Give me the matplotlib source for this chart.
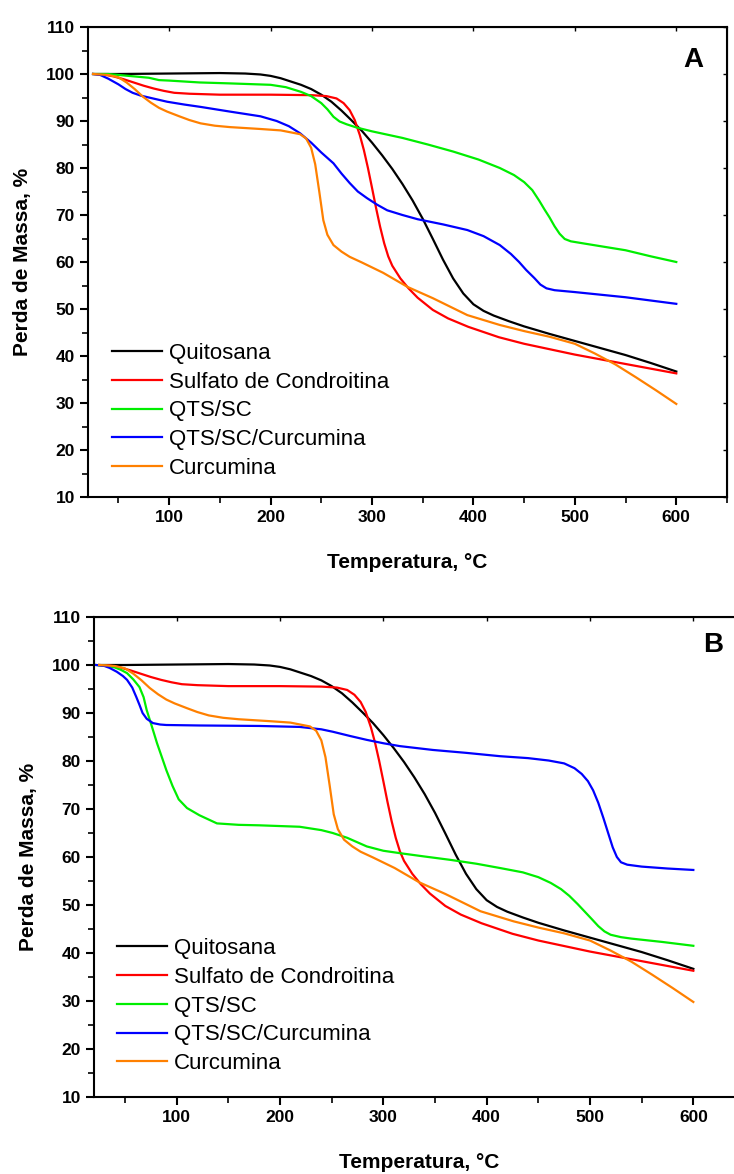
import numpy as np
import matplotlib
matplotlib.use('Agg')
import matplotlib.pyplot as plt
from matplotlib.ticker import MultipleLocator, NullFormatter

plt.rcParams['font.family'] = ['Liberation Sans', 'DejaVu Sans']

# curvas TGA - amostras puras (iguais nos dois graficos)
t_qui = [25, 50, 100, 150, 175, 190, 200, 210, 220, 230, 240, 250, 260, 270, 280, 290, 300, 310, 320, 330,
         340, 350, 360, 370, 380, 390, 400, 410, 420, 435, 450, 475, 500, 525, 550, 575, 600]
m_qui = [100, 100, 100.1, 100.2, 100.1, 99.9, 99.6, 99.1, 98.4, 97.7, 96.8, 95.6, 94.1, 92.2, 90.1, 87.9, 85.4, 82.7, 79.8, 76.6,
         73.1, 69.2, 64.9, 60.5, 56.5, 53.3, 51.0, 49.6, 48.6, 47.4, 46.3, 44.7, 43.2, 41.7, 40.2, 38.5, 36.7]

t_sc = [25, 35, 45, 55, 65, 75, 85, 95, 105, 120, 150, 200, 240, 255, 265, 272, 278, 283, 288, 292, 296, 300,
        304, 308, 312, 316, 320, 328, 336, 345, 360, 375, 395, 425, 450, 500, 550, 600]
m_sc = [100, 99.9, 99.5, 98.9, 98.2, 97.5, 96.9, 96.4, 96.0, 95.8, 95.6, 95.6, 95.5, 95.3, 94.8, 93.8, 92.3, 90.2, 87.0, 83.8, 80.0, 75.8,
        71.5, 67.5, 64.0, 61.2, 59.2, 56.5, 54.4, 52.4, 49.8, 48.0, 46.2, 44.0, 42.6, 40.3, 38.3, 36.3]

t_cur = [25, 40, 50, 58, 66, 74, 82, 90, 98, 110, 120, 131, 145, 160, 190, 210, 229, 235, 240, 244, 248, 252, 256,
         262, 270, 278, 290, 311, 335, 360, 394, 426, 450, 475, 500, 520, 540, 560, 580, 600]
m_cur = [100, 99.8, 99.3, 98.2, 96.8, 95.2, 93.9, 92.8, 92.0, 91.0, 90.2, 89.5, 89.0, 88.7, 88.3, 88.0, 87.2, 86.3, 84.3, 80.8, 75.0, 68.9, 65.8,
         63.6, 62.2, 61.1, 59.9, 57.7, 54.7, 52.3, 48.7, 46.6, 45.3, 44.1, 42.6, 40.5, 38.2, 35.5, 32.7, 29.8]

# grafico A
t_qts_a = [25, 40, 50, 60, 70, 80, 90, 100, 130, 160, 200, 215, 230, 240, 250, 256, 262, 268, 275, 285, 300, 330, 355, 380,
           405, 426, 440, 450, 458, 465, 470, 475, 480, 485, 490, 496, 510, 530, 550, 575, 600]
m_qts_a = [100, 100, 99.8, 99.6, 99.4, 99.2, 98.7, 98.6, 98.2, 98.0, 97.7, 97.2, 96.2, 95.3, 93.8, 92.5, 90.9, 89.9, 89.3, 88.6, 87.8, 86.4, 85.0, 83.5,
           81.8, 80.0, 78.5, 77.0, 75.3, 73.0, 71.2, 69.5, 67.6, 66.0, 64.9, 64.4, 63.9, 63.2, 62.5, 61.2, 60.0]

t_qcur_a = [25, 32, 40, 50, 57, 64, 72, 80, 90, 98, 115, 131, 160, 190, 206, 218, 229, 240, 250, 262, 270, 278, 286, 295, 305,
            315, 330, 345, 370, 394, 410, 426, 437, 445, 452, 460, 466, 472, 480, 500, 550, 600]
m_qcur_a = [100, 99.8, 99.0, 97.8, 96.8, 96.0, 95.4, 95.0, 94.5, 94.1, 93.5, 93.0, 92.0, 91.0, 90.0, 88.9, 87.4, 85.4, 83.3, 81.0, 78.8, 76.8, 75.0, 73.6, 72.2,
            71.0, 70.0, 69.1, 68.0, 66.8, 65.5, 63.6, 61.7, 60.0, 58.3, 56.6, 55.2, 54.4, 54.0, 53.6, 52.5, 51.1]

# grafico B
t_qts_b = [22, 30, 40, 46, 52, 58, 64, 68, 71, 76, 81, 86, 90, 96, 102, 110, 122, 139, 160, 180, 219, 240, 251, 265, 284, 300,
           316, 340, 365, 390, 413, 435, 450, 462, 472, 480, 488, 495, 502, 508, 514, 520, 530, 540, 570, 600]
m_qts_b = [100, 99.9, 99.5, 99.0, 98.3, 97.0, 95.4, 93.3, 90.6, 87.2, 83.7, 80.6, 78.1, 74.8, 72.0, 70.2, 68.7, 67.0, 66.7, 66.6, 66.3, 65.6, 65.0, 64.0, 62.2, 61.3,
           60.8, 60.1, 59.4, 58.6, 57.7, 56.8, 55.8, 54.6, 53.3, 51.9, 50.2, 48.6, 47.0, 45.6, 44.5, 43.8, 43.3, 43.0, 42.3, 41.5]

t_qcur_b = [22, 30, 35, 42, 48, 52, 57, 61, 64, 67, 71, 77, 84, 90, 122, 180, 219, 240, 251, 268, 284, 300, 316, 348, 380,
            413, 440, 460, 475, 485, 492, 498, 503, 508, 513, 518, 522, 526, 530, 536, 550, 575, 600]
m_qcur_b = [100, 99.8, 99.4, 98.6, 97.7, 96.9, 95.3, 93.3, 91.7, 90.0, 88.8, 87.9, 87.6, 87.5, 87.4, 87.3, 87.1, 86.6, 86.1, 85.2, 84.4, 83.7, 83.1, 82.3, 81.7,
            81.0, 80.6, 80.1, 79.5, 78.5, 77.3, 75.8, 73.9, 71.3, 68.1, 64.7, 62.0, 60.0, 58.9, 58.4, 58.0, 57.6, 57.3]

nomes = ['Quitosana', 'Sulfato de Condroitina', 'QTS/SC', 'QTS/SC/Curcumina', 'Curcumina']
cores = ['black', '#ff0000', '#00ee00', '#0000ff', '#ff8000']


def painel(ax, series, letra, leg_xy, letra_xy):
    for (t, m), nome, cor in zip(series, nomes, cores):
        ax.plot(t, m, color=cor, lw=1.6, label=nome)
    ax.set_xlim(20, 650)
    ax.set_ylim(10, 110)
    ax.xaxis.set_major_locator(MultipleLocator(100))
    ax.xaxis.set_minor_locator(MultipleLocator(50))
    ax.yaxis.set_major_locator(MultipleLocator(10))
    ax.yaxis.set_minor_locator(MultipleLocator(5))
    ax.tick_params(which='major', direction='out', length=6, width=1.5, labelsize=12.5)
    ax.tick_params(which='minor', direction='out', length=4, width=1.2)
    for lbl in ax.get_xticklabels() + ax.get_yticklabels():
        lbl.set_fontweight('bold')
    for s in ax.spines.values():
        s.set_linewidth(1.5)

    # eixos espelhados, ticks para dentro
    topo = ax.secondary_xaxis('top')
    topo.xaxis.set_major_locator(MultipleLocator(100))
    topo.xaxis.set_major_formatter(NullFormatter())
    topo.tick_params(direction='in', length=3, width=1)
    dir_ = ax.secondary_yaxis('right')
    dir_.yaxis.set_major_locator(MultipleLocator(10))
    dir_.yaxis.set_major_formatter(NullFormatter())
    dir_.tick_params(direction='in', length=3, width=1)

    ax.set_xlabel('Temperatura, °C', fontsize=15, fontweight='bold', labelpad=20)
    ax.set_ylabel('Perda de Massa, %', fontsize=15, fontweight='bold', labelpad=10)
    ax.text(letra_xy[0], letra_xy[1], letra, transform=ax.transAxes, fontsize=20,
            fontweight='bold', ha='center', va='center')
    ax.legend(loc='upper left', bbox_to_anchor=leg_xy, frameon=False, fontsize=16,
              borderaxespad=0, borderpad=0, handlelength=2.25, handletextpad=0.32,
              labelspacing=0.35)


fig = plt.figure(figsize=(7.34, 11.74), dpi=100)
ax_a = fig.add_axes([88 / 734, 1 - 497 / 1174, 639 / 734, 470 / 1174])
ax_b = fig.add_axes([94 / 734, 1 - 1097 / 1174, 651 / 734, 480 / 1174])

painel(ax_a, [(t_qui, m_qui), (t_sc, m_sc), (t_qts_a, m_qts_a), (t_qcur_a, m_qcur_a), (t_cur, m_cur)],
       'A', (0.037, 0.328), (0.947, 0.93))
painel(ax_b, [(t_qui, m_qui), (t_sc, m_sc), (t_qts_b, m_qts_b), (t_qcur_b, m_qcur_b), (t_cur, m_cur)],
       'B', (0.035, 0.331), (0.951, 0.942))

fig.savefig('out.png', dpi=100)
